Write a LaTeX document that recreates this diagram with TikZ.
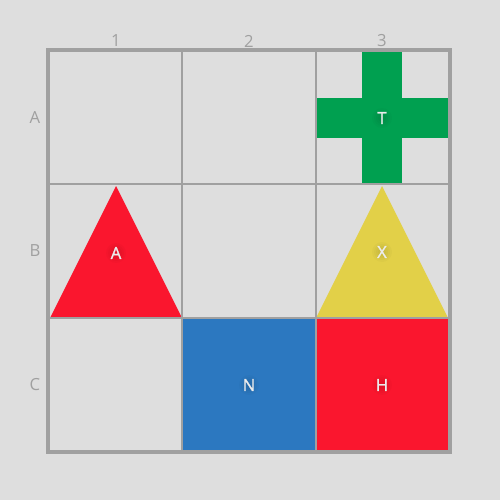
\documentclass[tikz,border=0pt]{standalone}
\usepackage{fontspec}
\setmainfont{Open Sans}
\newfontfamily\lblfont[FakeBold=1.2]{Open Sans}
\usetikzlibrary{positioning}
\definecolor{bggray}{RGB}{222,222,222}
\definecolor{gridgray}{RGB}{160,160,160}
\definecolor{shapegreen}{RGB}{0,160,80}
\definecolor{shapered}{RGB}{250,22,46}
\definecolor{shapeblue}{RGB}{44,120,192}
\definecolor{shapeyellow}{RGB}{226,208,72}
\definecolor{lblwhite}{RGB}{236,236,236}
\tikzset{
    % grid
    gridline/.style={draw=gridgray, line width=1.3pt},
    gridframe/.style={draw=gridgray, line width=2pt},
    headlbl/.style={font=\fontsize{9.5}{11}\selectfont, text=gridgray},
    % shapes
    cellshape/.style={fill=#1, draw=none},
    celllbl/.style={font=\lblfont\fontsize{9.5}{11}\selectfont, text=lblwhite},
    lblglow/.style={fill=black, opacity=0.025},
}
\begin{document}
\begin{tikzpicture}[x=0.02cm, y=-0.02cm]
\fill[bggray] (0,0) rectangle (500,500);
\useasboundingbox (0,0) rectangle (500,500);

% shapes
\fill[cellshape=shapegreen] (362,52) rectangle (402,184);
\fill[cellshape=shapegreen] (317,98) rectangle (448,138);
\fill[cellshape=shapered] (116,186) -- (182,318) -- (50,318) -- cycle;
\fill[cellshape=shapeyellow] (382,186) -- (448,318) -- (316,318) -- cycle;
\fill[cellshape=shapeblue] (182,318) rectangle (316,452);
\fill[cellshape=shapered] (316,318) rectangle (449,452);

% grid
\foreach \gx in {182,316}
    \draw[gridline] (\gx,50) -- (\gx,452);
\foreach \gy in {184,318}
    \draw[gridline] (48,\gy) -- (450,\gy);
\draw[gridframe] (48,50) rectangle (450,452);

% column and row headers
\foreach \col/\cx in {1/116,2/249,3/382}
    \node[headlbl] (col\col) at (\cx,41) {\col};
\foreach \row/\ry in {A/118,B/251,C/385}
    \node[headlbl] (row\row) at (35,\ry) {\row};

% labels
\foreach \name/\lx/\ly in {T/382/118,A/116/253,X/382/252,N/249/385,H/382/385}{
    \foreach \rr in {4,6,8,10}
        \fill[lblglow] (\lx,\ly) circle[radius=\rr*0.02cm];
    \node[celllbl] (lbl\name) at (\lx,\ly) {\name};
}
\end{tikzpicture}
\end{document}
